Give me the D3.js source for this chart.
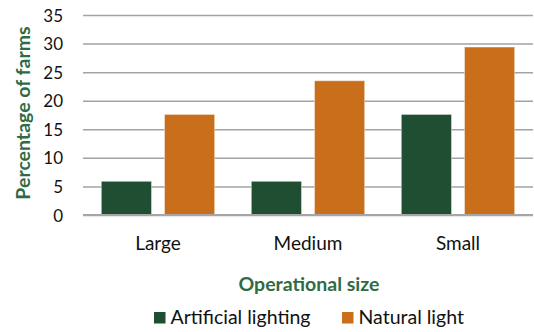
<!DOCTYPE html>
<html>
<head>
<meta charset="utf-8">
<script src="https://cdn.jsdelivr.net/npm/d3@7"></script>
<style>
	body { margin: 0; background: #ffffff; }
	svg { display: block; }
	text { font-family: Lato, "Open Sans", sans-serif; }
</style>
</head>
<body>
<svg id="chart" width="534" height="332"></svg>
<script>
// chart values
var categories = ["Large", "Medium", "Small"];
var series_names = ["Artificial lighting", "Natural light"];
var artificial_values = [5.9, 5.9, 17.6];
var natural_values = [17.6, 23.5, 29.4];
var y_ticks = [0, 5, 10, 15, 20, 25, 30, 35];

var SERIES_COLORS = ["#1f4e33", "#c96f1c"];
var TITLE_COLOR = "#2f6b43";
var GRID_COLOR = "#a3a3a3";
var LABEL_SIZE = "19px";

var svg = d3.select("#chart");

var plot = { left: 83, right: 533, top: 15, bottom: 215 };

var x0 = d3.scaleBand()
	.domain(categories)
	.range([plot.left, plot.right])
	.padding(0);

var x1 = d3.scaleBand()
	.domain(series_names)
	.range([0, x0.bandwidth()])
	.paddingInner(0.205)
	.paddingOuter(0.29);

var y = d3.scaleLinear()
	.domain([0, 35])
	.range([plot.bottom, plot.top]);

// Gridlines and tick labels from a left axis.
var y_axis = d3.axisLeft(y)
	.tickValues(y_ticks)
	.tickSize(-(plot.right - plot.left))
	.tickPadding(20);

var y_group = svg.append("g")
	.attr("transform", "translate(" + plot.left + ",0)")
	.call(y_axis);

y_group.select(".domain").remove();
y_group.selectAll(".tick line")
	.attr("stroke", GRID_COLOR)
	.attr("stroke-width", 1.5);
y_group.selectAll(".tick text")
	.attr("fill", "#111111")
	.attr("font-size", "17px")
	.attr("dy", "0.36em");

// Build one row per category so each bar comes from the arrays above.
var rows = categories.map(function(category, i)
{
	return {
		"category": category,
		"values": [
			{ "series": series_names[0], "value": artificial_values[i] },
			{ "series": series_names[1], "value": natural_values[i] }
		]
	};
});

var color = d3.scaleOrdinal().domain(series_names).range(SERIES_COLORS);

svg.append("g")
	.selectAll("g")
	.data(rows)
	.join("g")
	.attr("transform", function(d) { return "translate(" + x0(d.category) + ",0)"; })
	.selectAll("rect")
	.data(function(d) { return d.values; })
	.join("rect")
	.attr("x", function(d) { return x1(d.series); })
	.attr("y", function(d) { return y(d.value); })
	.attr("width", x1.bandwidth())
	.attr("height", function(d) { return y(0) - y(d.value); })
	.attr("fill", function(d) { return color(d.series); })
	.attr("stroke", "#ffffff")
	.attr("stroke-opacity", 0.45)
	.attr("stroke-width", 1);

// Zero line drawn on top of the bars.
svg.append("line")
	.attr("x1", plot.left)
	.attr("x2", plot.right)
	.attr("y1", y(0))
	.attr("y2", y(0))
	.attr("stroke", "#a6a6a6")
	.attr("stroke-width", 2);

// Category labels.
var x_axis = d3.axisBottom(x0).tickSize(0).tickPadding(22);
var x_group = svg.append("g")
	.attr("transform", "translate(0," + plot.bottom + ")")
	.call(x_axis);
x_group.select(".domain").remove();
x_group.selectAll(".tick text")
	.attr("fill", "#111111")
	.attr("font-size", LABEL_SIZE)
	.attr("dy", "0.68em");

// Axis titles.
svg.append("text")
	.attr("x", 309)
	.attr("y", 291)
	.attr("text-anchor", "middle")
	.attr("font-size", "19.5px")
	.attr("font-weight", "bold")
	.attr("fill", TITLE_COLOR)
	.text("Operational size");

svg.append("text")
	.attr("transform", "translate(30,113) rotate(-90)")
	.attr("text-anchor", "middle")
	.attr("font-size", "19.5px")
	.attr("font-weight", "bold")
	.attr("fill", TITLE_COLOR)
	.text("Percentage of farms");

// Legend.
var legend_x = [154, 342];
var legend = svg.append("g")
	.selectAll("g")
	.data(series_names)
	.join("g")
	.attr("transform", function(d, i) { return "translate(" + legend_x[i] + ",312)"; });

legend.append("rect")
	.attr("width", 11.5)
	.attr("height", 11.5)
	.attr("fill", function(d) { return color(d); });

legend.append("text")
	.attr("x", 16.5)
	.attr("y", 12)
	.attr("font-size", "19.5px")
	.attr("fill", "#111111")
	.text(function(d) { return d; });
</script>
</body>
</html>
